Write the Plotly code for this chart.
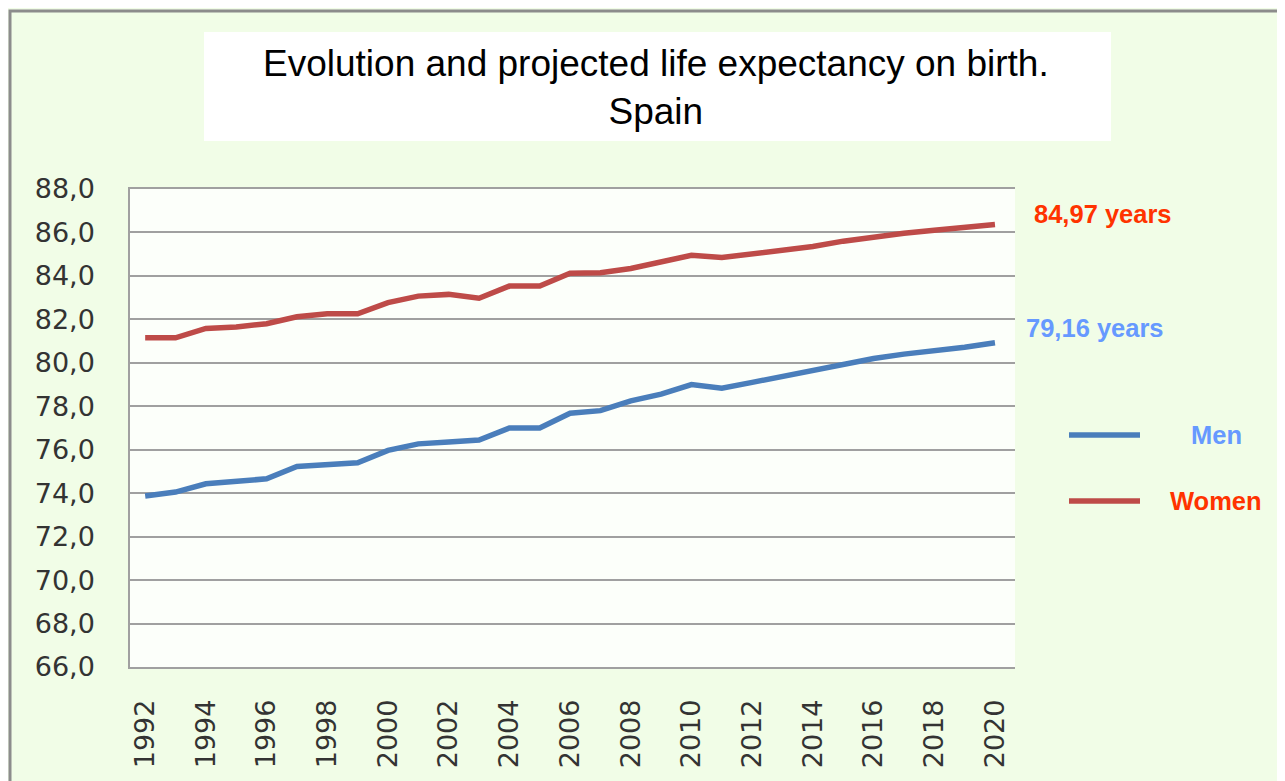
import plotly.graph_objects as go

years = list(range(1992, 2021))
men = [73.87, 74.05, 74.43, 74.54, 74.66, 75.23, 75.30, 75.40, 75.97, 76.27,
       76.35, 76.45, 77.00, 77.00, 77.68, 77.80, 78.25, 78.56, 79.00, 78.83,
       79.10, 79.37, 79.65, 79.93, 80.20, 80.40, 80.55, 80.72, 80.92]
women = [81.15, 81.15, 81.58, 81.65, 81.80, 82.12, 82.26, 82.26, 82.77, 83.07,
         83.15, 82.97, 83.53, 83.53, 84.12, 84.15, 84.34, 84.65, 84.95, 84.85,
         85.00, 85.15, 85.35, 85.60, 85.80, 85.96, 86.10, 86.25, 86.37]
x_ticks = list(range(1992, 2021, 2))
y_ticks = [66, 68, 70, 72, 74, 76, 78, 80, 82, 84, 86, 88]
title_text = "Evolution and projected life expectancy on birth.<br>Spain"
women_label = "84,97 years"
men_label = "79,16 years"
series_names = ["Men", "Women"]

MEN_C = "#4a7ebb"
WOMEN_C = "#be4b48"
MEN_T = "#6699ff"
WOMEN_T = "#ff3300"

fig = go.Figure()
fig.add_trace(go.Scatter(x=years, y=men, mode="lines", name=series_names[0],
                         line=dict(color=MEN_C, width=5.5), showlegend=False))
fig.add_trace(go.Scatter(x=years, y=women, mode="lines", name=series_names[1],
                         line=dict(color=WOMEN_C, width=5.5), showlegend=False))

OFF = 8  # page body margin
W, H = 1285 - OFF, 781 - OFF
L, R, T, B = 130 - OFF, 270, 189 - OFF, 114
pw, ph = W - L - R, H - T - B

def px(x):
    return (x - OFF - L) / pw

def py(y):
    return (H - B - (y - OFF)) / ph

shapes = [
    dict(type="rect", xref="paper", yref="paper", x0=px(10), x1=px(1300),
         y0=py(800), y1=py(11), line=dict(color="#8c8c8c", width=3),
         fillcolor="rgba(0,0,0,0)", layer="below"),
    dict(type="rect", xref="paper", yref="paper", x0=px(204), x1=px(1111),
         y0=py(141), y1=py(32), line=dict(width=0), fillcolor="white",
         layer="below"),
    dict(type="line", xref="paper", yref="paper", x0=px(1069), x1=px(1140),
         y0=py(435), y1=py(435), line=dict(color=MEN_C, width=5.5)),
    dict(type="line", xref="paper", yref="paper", x0=px(1069), x1=px(1140),
         y0=py(501), y1=py(501), line=dict(color=WOMEN_C, width=5.5)),
]

ann_font = "Liberation Sans, Arial, sans-serif"
annotations = [
    dict(xref="paper", yref="paper", x=px(656), y=py(87), text=title_text,
         showarrow=False, xanchor="center", yanchor="middle",
         font=dict(family=ann_font, size=37, color="black")),
    dict(xref="paper", yref="paper", x=px(1032), y=py(214), text="<b>%s</b>" % women_label,
         showarrow=False, xanchor="left", yanchor="middle",
         font=dict(family=ann_font, size=25.5, color=WOMEN_T)),
    dict(xref="paper", yref="paper", x=px(1024), y=py(328), text="<b>%s</b>" % men_label,
         showarrow=False, xanchor="left", yanchor="middle",
         font=dict(family=ann_font, size=25.5, color=MEN_T)),
    dict(xref="paper", yref="paper", x=px(1216), y=py(435), text="<b>%s</b>" % series_names[0],
         showarrow=False, xanchor="center", yanchor="middle",
         font=dict(family=ann_font, size=25.5, color=MEN_T)),
    dict(xref="paper", yref="paper", x=px(1216), y=py(501), text="<b>%s</b>" % series_names[1],
         showarrow=False, xanchor="center", yanchor="middle",
         font=dict(family=ann_font, size=25.5, color=WOMEN_T)),
]

fig.update_layout(
    width=W, height=H,
    margin=dict(l=L, r=R, t=T, b=B, pad=0),
    paper_bgcolor="#f1fde7",
    plot_bgcolor="#fcfffa",
    separators=", ",
    shapes=shapes,
    annotations=annotations,
    showlegend=False,
    xaxis=dict(range=[1991.5, 2020.66], tickmode="array", tickvals=x_ticks,
               tickangle=-90, showgrid=False, zeroline=False,
               showline=True, mirror=True, linecolor="#a0a0a0", linewidth=1.5,
               ticks="", ticklabelstandoff=20,
               tickfont=dict(family="DejaVu Sans", size=27, color="#333333")),
    yaxis=dict(range=[66, 88], tickmode="array", tickvals=y_ticks,
               tickformat=".1f", showgrid=True, gridcolor="#a0a0a0", gridwidth=1.5,
               zeroline=False, showline=True, linecolor="#a0a0a0", linewidth=1.5,
               ticks="", ticklabelstandoff=28,
               tickfont=dict(family="DejaVu Sans", size=27, color="#333333")),
)

fig.write_html("out.html")
